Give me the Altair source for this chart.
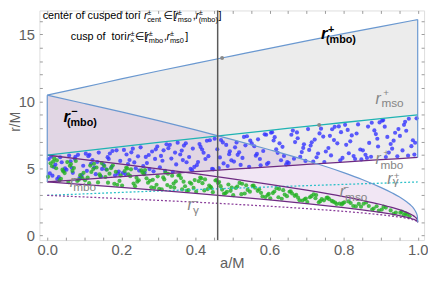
import altair as alt
import pandas as pd

# ---------------- data ----------------
# counter-rotating ("+") curves
a_plus = [0.0, 0.1, 0.2, 0.3, 0.4, 0.5, 0.6, 0.7, 0.8, 0.9, 1.0]
r_mso_plus = [6.0, 6.323, 6.640, 6.949, 7.253, 7.555, 7.848, 8.137, 8.432, 8.717, 9.0]
r_mbo_plus = [4.0, 4.198, 4.391, 4.580, 4.766, 4.949, 5.130, 5.308, 5.483, 5.657, 5.828]
r_gamma_plus = [3.0, 3.113, 3.223, 3.329, 3.432, 3.532, 3.630, 3.725, 3.819, 3.910, 4.0]
r_cmbo_plus = [10.47, 11.07, 11.68, 12.27, 12.84, 13.40, 13.96, 14.51, 15.05, 15.58, 16.10]

# co-rotating ("-") curves
a_minus = [0.0, 0.1, 0.2, 0.3, 0.4, 0.5, 0.6, 0.7, 0.8, 0.85, 0.9, 0.93, 0.95, 0.97, 0.98, 0.99, 0.995, 0.999, 1.0]
r_mso_minus = [6.0, 5.669, 5.329, 4.979, 4.614, 4.233, 3.829, 3.393, 2.907, 2.634, 2.321, 2.104, 1.937, 1.738, 1.614, 1.455, 1.341, 1.182, 1.0]
r_mbo_minus = [4.0, 3.797, 3.589, 3.373, 3.149, 2.914, 2.665, 2.395, 2.094, 1.925, 1.732, 1.599, 1.497, 1.376, 1.303, 1.210, 1.146, 1.064, 1.0]
r_gamma_minus = [3.0, 2.882, 2.758, 2.631, 2.494, 2.347, 2.189, 2.013, 1.811, 1.694, 1.558, 1.461, 1.386, 1.296, 1.239, 1.167, 1.118, 1.054, 1.0]
r_cmbo_minus = [10.47, 9.85, 9.22, 8.57, 7.88, 7.16, 6.40, 5.60, 4.70, 4.19, 3.60, 3.20, 2.90, 2.52, 2.30, 2.00, 1.76, 1.45, 1.0]

# cusp points, "+" family (blue)
blue_a = [0.004, 0.031, 0.018, 0.045, 0.011, 0.027, 0.039, 0.007, 0.022, 0.048, 0.014, 0.035,
          0.052, 0.076, 0.091, 0.063, 0.083, 0.069, 0.097, 0.059, 0.087, 0.074, 0.066, 0.093,
          0.104, 0.131, 0.118, 0.145, 0.111, 0.127, 0.139, 0.107, 0.122, 0.148, 0.114, 0.135,
          0.152, 0.176, 0.191, 0.163, 0.183, 0.169, 0.197, 0.159, 0.187, 0.174, 0.166, 0.193,
          0.204, 0.231, 0.218, 0.245, 0.211, 0.227, 0.239, 0.207, 0.222, 0.248, 0.214, 0.235,
          0.252, 0.276, 0.291, 0.263, 0.283, 0.269, 0.297, 0.259, 0.287, 0.274, 0.266, 0.293,
          0.304, 0.331, 0.318, 0.345, 0.311, 0.327, 0.339, 0.307, 0.322, 0.348, 0.314, 0.335,
          0.352, 0.376, 0.391, 0.363, 0.383, 0.369, 0.397, 0.359, 0.387, 0.374, 0.366, 0.393,
          0.404, 0.431, 0.418, 0.445, 0.411, 0.427, 0.439, 0.407, 0.422, 0.448, 0.414, 0.435,
          0.452, 0.476, 0.491, 0.463, 0.483, 0.469, 0.497, 0.459, 0.487, 0.474, 0.466, 0.493,
          0.504, 0.531, 0.518, 0.545, 0.511, 0.527, 0.539, 0.507, 0.522, 0.548, 0.514, 0.535,
          0.552, 0.576, 0.591, 0.563, 0.583, 0.569, 0.597, 0.559, 0.587, 0.574, 0.566, 0.593,
          0.604, 0.631, 0.618, 0.645, 0.611, 0.627, 0.639, 0.607, 0.622, 0.648, 0.614, 0.635,
          0.652, 0.676, 0.691, 0.663, 0.683, 0.669, 0.697, 0.659, 0.687, 0.674, 0.666, 0.693,
          0.704, 0.731, 0.718, 0.745, 0.711, 0.727, 0.739, 0.707, 0.722, 0.748, 0.714, 0.735,
          0.752, 0.776, 0.791, 0.763, 0.783, 0.769, 0.797, 0.759, 0.787, 0.774, 0.766, 0.793,
          0.804, 0.831, 0.818, 0.845, 0.811, 0.827, 0.839, 0.807, 0.822, 0.848, 0.814, 0.835,
          0.852, 0.876, 0.891, 0.863, 0.883, 0.869, 0.897, 0.859, 0.887, 0.874, 0.866, 0.893,
          0.904, 0.931, 0.918, 0.945, 0.911, 0.927, 0.939, 0.907, 0.922, 0.948, 0.914, 0.935,
          0.952, 0.976, 0.991, 0.963, 0.983, 0.969, 0.997, 0.959, 0.987, 0.974, 0.966, 0.993]
blue_r = [5.71, 4.36, 5.12, 4.83, 5.89, 4.22, 5.47, 4.64, 5.30, 5.02, 4.47, 5.84,
          4.91, 5.88, 4.37, 5.54, 6.02, 4.68, 5.21, 5.97, 4.29, 5.73, 5.06, 4.52,
          6.11, 4.58, 5.36, 4.41, 5.92, 5.07, 6.19, 4.83, 5.64, 4.97, 6.03, 5.49,
          5.28, 6.31, 4.62, 5.85, 4.49, 6.12, 5.57, 4.94, 6.36, 5.13, 5.71, 4.78,
          4.67, 6.48, 5.33, 5.91, 4.59, 6.21, 5.02, 6.39, 5.64, 4.85, 6.05, 5.46,
          6.58, 4.96, 5.72, 4.68, 6.27, 5.41, 6.64, 5.18, 4.79, 6.01, 5.87, 6.43,
          5.09, 6.77, 4.83, 6.19, 5.58, 6.52, 4.76, 5.94, 6.81, 5.31, 6.36, 5.74,
          6.93, 5.47, 4.88, 6.34, 5.86, 6.71, 5.12, 6.05, 4.97, 6.88, 5.63, 6.49,
          5.26, 7.07, 6.42, 4.97, 6.83, 5.71, 7.11, 5.49, 6.18, 4.94, 6.61, 5.92,
          7.22, 5.38, 6.07, 5.04, 6.76, 7.13, 5.61, 6.44, 5.19, 6.95, 5.83, 6.28,
          5.52, 7.36, 6.21, 5.13, 6.94, 5.79, 7.41, 6.58, 5.27, 7.08, 6.02, 6.73,
          6.87, 5.24, 7.52, 5.96, 6.31, 7.18, 5.43, 6.66, 7.55, 5.71, 6.09, 5.33,
          7.67, 5.62, 6.43, 5.31, 7.09, 6.88, 5.94, 7.71, 6.17, 5.48, 7.34, 6.62,
          5.41, 7.26, 6.54, 7.83, 5.88, 6.97, 5.57, 7.52, 6.23, 7.69, 5.73, 6.81,
          7.94, 6.12, 5.52, 7.38, 6.71, 5.84, 7.97, 6.39, 7.16, 5.49, 6.96, 7.62,
          6.27, 8.11, 5.61, 7.44, 6.88, 7.93, 5.79, 6.53, 8.14, 7.12, 5.98, 7.71,
          8.26, 5.71, 7.03, 6.42, 7.88, 5.93, 8.29, 6.77, 7.47, 5.68, 6.14, 7.61,
          6.36, 8.41, 7.22, 5.79, 7.84, 6.91, 8.44, 6.03, 7.57, 5.88, 8.13, 6.64,
          8.57, 6.48, 7.36, 5.91, 8.12, 6.83, 7.67, 8.61, 6.19, 7.94, 5.86, 7.08,
          7.43, 8.71, 6.04, 8.26, 6.67, 7.82, 8.74, 6.35, 7.11, 5.96, 8.48, 6.92]

# cusp points, "-" family (green)
green_a = [0.002, 0.026, 0.041, 0.013, 0.033, 0.019, 0.047, 0.009, 0.037, 0.024, 0.016, 0.043,
           0.054, 0.081, 0.068, 0.095, 0.061, 0.077, 0.089, 0.057, 0.072, 0.098, 0.064, 0.085,
           0.102, 0.126, 0.141, 0.113, 0.133, 0.119, 0.147, 0.109, 0.137, 0.124, 0.116, 0.143,
           0.154, 0.181, 0.168, 0.195, 0.161, 0.177, 0.189, 0.157, 0.172, 0.198, 0.164, 0.185,
           0.202, 0.226, 0.241, 0.213, 0.233, 0.219, 0.247, 0.209, 0.237, 0.224, 0.216, 0.243,
           0.254, 0.281, 0.268, 0.295, 0.261, 0.277, 0.289, 0.257, 0.272, 0.298, 0.264, 0.285,
           0.302, 0.326, 0.341, 0.313, 0.333, 0.319, 0.347, 0.309, 0.337, 0.324, 0.316, 0.343,
           0.354, 0.381, 0.368, 0.395, 0.361, 0.377, 0.389, 0.357, 0.372, 0.398, 0.364, 0.385,
           0.402, 0.426, 0.441, 0.413, 0.433, 0.419, 0.447, 0.409, 0.437, 0.424, 0.416, 0.443,
           0.454, 0.481, 0.468, 0.495, 0.461, 0.477, 0.489, 0.457, 0.472, 0.498, 0.464, 0.485,
           0.502, 0.526, 0.541, 0.513, 0.533, 0.519, 0.547, 0.509, 0.537, 0.524,
           0.554, 0.581, 0.568, 0.595, 0.561, 0.577, 0.589, 0.557, 0.572, 0.598,
           0.602, 0.626, 0.641, 0.613, 0.633, 0.619, 0.647, 0.609, 0.637, 0.624,
           0.654, 0.681, 0.668, 0.695, 0.661, 0.677, 0.689, 0.657, 0.672, 0.698,
           0.702, 0.726, 0.741, 0.713, 0.733, 0.719, 0.747, 0.709, 0.737, 0.724,
           0.754, 0.781, 0.768, 0.795, 0.761, 0.777, 0.789, 0.757, 0.772, 0.798,
           0.802, 0.826, 0.841, 0.813, 0.833, 0.819, 0.847,
           0.854, 0.881, 0.868, 0.895, 0.861, 0.877, 0.889,
           0.903, 0.927, 0.914, 0.941, 0.908, 0.935,
           0.953, 0.962, 0.971, 0.957, 0.978, 0.967]
green_r = [4.38, 5.61, 4.92, 5.17, 4.11, 5.74, 4.66, 5.39, 4.24, 5.02, 5.52, 4.79,
           5.48, 4.07, 4.83, 4.29, 5.21, 5.56, 4.51, 3.99, 5.04, 4.68, 5.33, 4.16,
           4.12, 5.36, 4.57, 3.91, 5.08, 4.74, 5.41, 4.33, 3.97, 4.96, 5.22, 4.45,
           5.19, 3.86, 4.62, 4.08, 4.91, 5.24, 3.79, 4.37, 5.03, 4.49, 3.95, 4.76,
           3.73, 4.94, 4.31, 5.06, 3.88, 4.57, 4.12, 4.82, 3.69, 4.43, 5.01, 4.02,
           4.86, 3.61, 4.27, 3.79, 4.58, 4.09, 3.57, 4.71, 3.94, 4.42, 4.89, 4.16,
           3.49, 4.61, 3.88, 4.34, 3.63, 4.71, 4.05, 3.46, 4.47, 3.77, 4.19, 3.58,
           4.48, 3.39, 4.02, 3.56, 4.29, 3.34, 3.87, 4.52, 3.68, 4.14, 3.45, 3.96,
           3.28, 4.19, 3.63, 4.33, 3.47, 3.91, 3.24, 4.06, 3.74, 3.37, 4.27, 3.55,
           4.11, 3.16, 3.69, 3.34, 3.92, 3.12, 3.81, 4.14, 3.43, 3.58, 3.99, 3.27,
           3.02, 3.87, 3.41, 3.66, 3.14, 3.93, 3.28, 3.55, 3.75, 3.09,
           3.71, 2.92, 3.34, 3.03, 3.57, 3.19, 2.88, 3.74, 3.46, 3.11,
           2.79, 3.48, 3.06, 3.29, 2.75, 3.53, 2.94, 3.17, 3.39, 2.86,
           3.27, 2.64, 2.97, 2.71, 3.14, 2.83, 2.62, 3.31, 3.05, 2.77,
           2.51, 3.03, 2.72, 2.94, 2.48, 3.08, 2.63, 2.86, 2.57, 2.79,
           2.81, 2.36, 2.59, 2.33, 2.72, 2.47, 2.39, 2.84, 2.53, 2.42,
           2.49, 2.21, 2.37, 2.55, 2.18, 2.43, 2.16,
           2.38, 2.02, 2.21, 1.86, 2.47, 1.95, 2.19,
           1.94, 1.88, 2.09, 1.72, 2.16, 1.63,
           1.71, 1.53, 1.58, 1.79, 1.45, 1.66]

a_line = [0.46]                 # vertical marker line
marker_a = [0.472, 0.734]       # small grey dots
marker_r = [13.24, 8.25]

x_ticks = [round(0.05 * i, 2) for i in range(21)]
y_ticks = list(range(0, 17))

# ---------------- styling ----------------
FONT = "Liberation Sans, DejaVu Sans"
BLUE_EDGE = "#6a98d0"
CYAN = "#1fb3b3"
PURPLE = "#6e2b82"
CYAN_DOT = "#2cc0c8"
PURPLE_DOT = "#8b3f9b"
GREY_LAB = "#858585"
TICK_LAB = "#606060"

XS = alt.Scale(domain=[-0.0212, 1.0172], nice=False, zero=False)
YS = alt.Scale(domain=[-0.33, 16.78], nice=False, zero=False)


def X(field, axis=None):
    return alt.X(field, type="quantitative", scale=XS, axis=axis)


def Y(field, axis=None):
    return alt.Y(field, type="quantitative", scale=YS, axis=axis)


tick_common = dict(domain=False, grid=False, ticks=True, tickSize=3, tickColor="#9a9a9a",
                   tickWidth=1, offset=-3)

ax_bottom = alt.Axis(orient="bottom", values=x_ticks,
                     labelExpr="abs(datum.value*5 - round(datum.value*5)) < 0.001 ? format(datum.value, '.1f') : ''",
                     title="a/M", labelPadding=3, labelFont=FONT, labelFontSize=15,
                     labelColor=TICK_LAB, labelOverlap=False, labelFlush=False,
                     titleFont=FONT, titleFontSize=15, titleFontWeight="normal",
                     titleColor=TICK_LAB, titleY=31, titleBaseline="alphabetic", **tick_common)
ax_left = alt.Axis(orient="left", values=y_ticks,
                   labelExpr="datum.value % 5 == 0 ? datum.label : ''",
                   title="r/M", labelPadding=5, labelFont=FONT, labelFontSize=15,
                   labelColor=TICK_LAB, labelOverlap=False, labelFlush=False,
                   titleFont=FONT, titleFontSize=14, titleFontWeight="normal",
                   titleColor=TICK_LAB, titleX=-23, titleY=113, titleAngle=270,
                   titleBaseline="alphabetic", **tick_common)
ax_top = alt.Axis(orient="top", values=x_ticks, labels=False, title=None, **tick_common)
ax_right = alt.Axis(orient="right", values=y_ticks, labels=False, title=None, **tick_common)

plus_df = pd.DataFrame({"a": a_plus, "mso": r_mso_plus, "mbo": r_mbo_plus,
                        "gam": r_gamma_plus, "cmbo": r_cmbo_plus})
minus_df = pd.DataFrame({"a": a_minus, "mso": r_mso_minus, "mbo": r_mbo_minus,
                         "gam": r_gamma_minus, "cmbo": r_cmbo_minus})
blue_df = pd.DataFrame({"a": blue_a, "r": blue_r})
green_df = pd.DataFrame({"a": green_a, "r": green_r})
edge_df = pd.DataFrame({"a": [a_minus[0], a_plus[-1]],
                        "lo": [r_mbo_minus[0], r_mbo_plus[-1]],
                        "hi": [r_cmbo_minus[0], r_cmbo_plus[-1]]})
vline_df = pd.DataFrame({"a": a_line})
marker_df = pd.DataFrame({"a": marker_a, "r": marker_r})

# ---------------- annotations (page pixel anchors -> data units) ----------------
def pa(px):
    return (px - 48.0) / 377.5


def pr(py):
    return (237.5 - py) / 13.676


ann = [
    ("center of cusped tori", 43.3, 17, "t"),
    ("r", 146.5, 17, "ti"), ("±", 149.8, 13, "ts"), ("cent", 149.8, 20, "ts"),
    ("∈[", 166.5, 17, "t"),
    ("r", 177.8, 17, "ti"), ("±", 181, 13, "ts"), ("mso", 181, 20, "ts"),
    (",", 196.2, 17, "t"),
    ("r", 199, 17, "ti"), ("±", 202.3, 13, "ts"), ("(mbo)", 202.3, 20, "ts"),
    ("]", 222.5, 17, "t"),
    ("cusp of\u00a0 tori", 72, 38, "t"),
    ("r", 129.3, 38, "ti"), ("±", 132.8, 34, "ts"), ("×", 132.3, 41, "ts"),
    ("∈[", 137.3, 38, "t"),
    ("r", 148, 38, "ti"), ("±", 151.5, 34, "ts"), ("mbo", 151.5, 41, "ts"),
    (",", 166.8, 38, "t"),
    ("r", 169.5, 38, "ti"), ("±", 173, 34, "ts"), ("ms0", 173, 41, "ts"),
    ("]", 188.5, 38, "t"),
    # bold curve labels
    ("r", 327, 37, "lb"), ("+", 334, 31, "lbs"), ("(mbo)", 332, 41, "lbs"),
    ("r", 64.5, 121.5, "lb"), ("\u2212", 72.5, 114.5, "lbs"), ("(mbo)", 68, 125.5, "lbs"),
    # grey curve labels
    ("r", 382.5, 103.3, "gi"), ("+", 390.5, 95, "gsup"), ("mso", 388.5, 106.7, "gs"),
    ("r", 382.5, 164, "gi"), ("+", 390.5, 156.5, "gsup"), ("mbo", 387.5, 169.3, "gs"),
    ("r", 394.5, 185, "gi"), ("+", 401, 179.5, "gsup"), ("γ", 400, 186, "gs"),
    ("r", 346, 198.3, "gi"), ("\u2212", 350, 191.5, "gsup"), ("mso", 351.5, 201.7, "gs"),
    ("r", 71, 188.3, "gi"), ("\u2212", 74, 183, "gsup"), ("mbo", 74.5, 191.7, "gs"),
    ("r", 191, 211.7, "gi"), ("\u2212", 196.5, 206, "gsup"), ("γ", 196.5, 215, "gs"),
]
ann_df = pd.DataFrame({"text": [t[0] for t in ann],
                       "a": [pa(t[1]) for t in ann],
                       "r": [pr(t[2]) for t in ann],
                       "style": [t[3] for t in ann]})

text_styles = {
    "t": dict(fontSize=11, color="black"),
    "ti": dict(fontSize=11, color="black", fontStyle="italic"),
    "ts": dict(fontSize=7.5, color="black"),
    "lb": dict(fontSize=17, color="black", fontStyle="italic", fontWeight="bold"),
    "lbs": dict(fontSize=11, color="black", fontWeight="bold"),
    "gi": dict(fontSize=16, color=GREY_LAB, fontStyle="italic"),
    "gs": dict(fontSize=12, color=GREY_LAB),
    "gsup": dict(fontSize=10, color=GREY_LAB),
}

# ---------------- layers ----------------
layers = []

# grey region between r_(mbo)^+ and r_mbo^+  (carries bottom/left axes)
layers.append(alt.Chart(plus_df).mark_area(color="#ececec", interpolate="monotone").encode(
    x=X("a", ax_bottom), y=Y("cmbo", ax_left), y2="mbo"))
# pink region between r_(mbo)^- and r_mbo^-  (carries top/right tick axes)
layers.append(alt.Chart(minus_df).mark_area(color="#bb84c8", opacity=0.2, interpolate="monotone").encode(
    x=X("a", ax_top), y=Y("cmbo", ax_right), y2="mbo"))

layers.append(alt.Chart(blue_df).mark_circle(size=18, color="#3434ff", opacity=0.8).encode(
    x=X("a"), y=Y("r")))
layers.append(alt.Chart(green_df).mark_circle(size=18, color="#22b022", opacity=0.8).encode(
    x=X("a"), y=Y("r")))

# photon orbits (dotted)
layers.append(alt.Chart(plus_df).mark_line(color=CYAN_DOT, strokeWidth=1.3, strokeDash=[2, 2]).encode(
    x=X("a"), y=Y("gam")))
layers.append(alt.Chart(minus_df).mark_line(color=PURPLE_DOT, strokeWidth=1.3, strokeDash=[2, 2],
                                            interpolate="monotone").encode(x=X("a"), y=Y("gam")))
# purple curves
layers.append(alt.Chart(plus_df).mark_line(color=PURPLE, strokeWidth=1.3, interpolate="monotone").encode(
    x=X("a"), y=Y("mbo")))
layers.append(alt.Chart(minus_df).mark_line(color=PURPLE, strokeWidth=1.3, interpolate="monotone").encode(
    x=X("a"), y=Y("mso")))
layers.append(alt.Chart(minus_df).mark_line(color=PURPLE, strokeWidth=1.3, interpolate="monotone").encode(
    x=X("a"), y=Y("mbo")))
# r_mso^+ (cyan)
layers.append(alt.Chart(plus_df).mark_line(color=CYAN, strokeWidth=1.3, interpolate="monotone").encode(
    x=X("a"), y=Y("mso")))
# blue boundaries
layers.append(alt.Chart(plus_df).mark_line(color=BLUE_EDGE, strokeWidth=1.2, interpolate="monotone").encode(
    x=X("a"), y=Y("cmbo")))
layers.append(alt.Chart(minus_df).mark_line(color=BLUE_EDGE, strokeWidth=1.2, interpolate="monotone").encode(
    x=X("a"), y=Y("cmbo")))
layers.append(alt.Chart(edge_df).mark_rule(color=BLUE_EDGE, strokeWidth=1.2).encode(
    x=X("a"), y=Y("lo"), y2="hi"))
# vertical spin marker
layers.append(alt.Chart(vline_df).mark_rule(color="#5a5a5a", strokeWidth=1.5).encode(x=X("a")))
layers.append(alt.Chart(marker_df).mark_circle(size=16, color="#8a8a8a", opacity=1).encode(
    x=X("a"), y=Y("r")))

for sname, sprops in text_styles.items():
    layers.append(alt.Chart(ann_df).transform_filter(alt.datum.style == sname).mark_text(
        align="left", baseline="alphabetic", font=FONT, **sprops).encode(
        x=X("a"), y=Y("r"), text="text:N"))

chart = alt.layer(*layers).resolve_axis(x="independent", y="independent").properties(
    width=392, height=234,
    autosize=alt.AutoSizeParams(type="none"),
    padding={"left": 32, "top": 0, "right": 4, "bottom": 29},
).configure_view(stroke="#aaaaaa", strokeWidth=1).configure(background="white")

chart.save("out.html", embed_options={"renderer": "svg", "actions": False})
